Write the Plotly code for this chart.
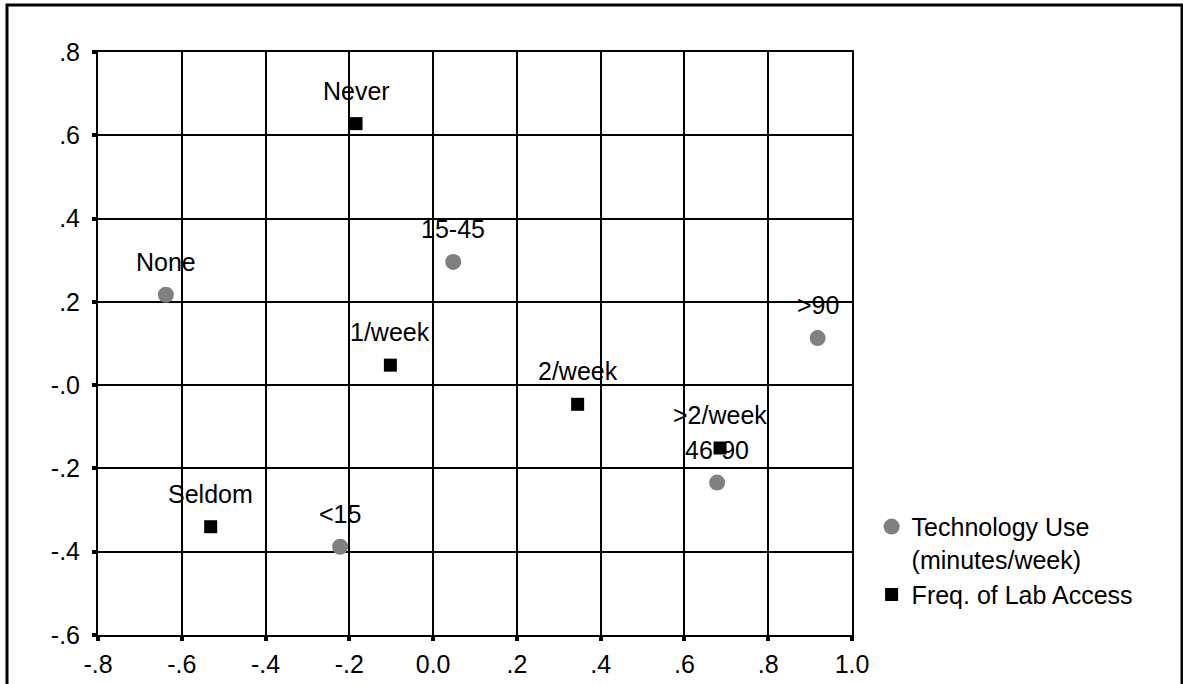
import plotly.graph_objects as go

# Technology Use (minutes/week)
tech_labels = ["None", "<15", "15-45", "46-90", ">90"]
tech_x = [-0.638, -0.222, 0.048, 0.678, 0.918]
tech_y = [0.217, -0.388, 0.296, -0.234, 0.113]

# Freq. of Lab Access
lab_labels = ["Never", "Seldom", "1/week", "2/week", ">2/week"]
lab_x = [-0.184, -0.531, -0.102, 0.345, 0.685]
lab_y = [0.628, -0.340, 0.048, -0.046, -0.151]

x_tickvals = [-0.8, -0.6, -0.4, -0.2, 0.0, 0.2, 0.4, 0.6, 0.8, 1.0]
x_ticktext = ["-.8", "-.6", "-.4", "-.2", "0.0", ".2", ".4", ".6", ".8", "1.0"]
y_tickvals = [-0.6, -0.4, -0.2, 0.0, 0.2, 0.4, 0.6, 0.8]
y_ticktext = ["-.6", "-.4", "-.2", "-.0", ".2", ".4", ".6", ".8"]

FONT = "Liberation Sans, Arial, sans-serif"
FS = 25

fig = go.Figure()
fig.add_trace(go.Scatter(
    x=tech_x, y=tech_y, mode="markers",
    name="Technology Use<br>(minutes/week)",
    marker=dict(symbol="circle", size=16, color="#808080"),
    hoverinfo="skip",
))
fig.add_trace(go.Scatter(
    x=lab_x, y=lab_y, mode="markers",
    name="Freq. of Lab Access",
    marker=dict(symbol="square", size=13, color="black"),
    hoverinfo="skip",
))

for lbls, xs, ys in ((tech_labels, tech_x, tech_y), (lab_labels, lab_x, lab_y)):
    for t, xv, yv in zip(lbls, xs, ys):
        fig.add_annotation(x=xv, y=yv, text=t, showarrow=False,
                           xanchor="center", yanchor="middle", yshift=33,
                           font=dict(family=FONT, size=FS, color="black"))

axis_common = dict(
    showgrid=True, gridcolor="black", gridwidth=2,
    showline=True, linecolor="black", linewidth=2, mirror=True,
    zeroline=False, ticks="outside", ticklen=4, tickwidth=4, tickcolor="black",
    tickfont=dict(family=FONT, size=FS, color="black"),
    fixedrange=True, automargin=False,
)

fig.update_xaxes(range=[-0.8, 1.0], tickvals=x_tickvals, ticktext=x_ticktext,
                 ticklabelstandoff=2, **axis_common)
fig.update_yaxes(range=[-0.6, 0.8], tickvals=y_tickvals, ticktext=y_ticktext,
                 ticklabelstandoff=7, **axis_common)

# outer frame
fig.add_shape(type="rect", xref="paper", yref="paper",
              x0=-0.1207, x1=1.4377, y0=-0.12, y1=1.0806,
              line=dict(color="black", width=3), layer="below")

fig.update_layout(
    width=1183, height=684,
    margin=dict(l=98, r=331, t=52, b=49, autoexpand=False),
    paper_bgcolor="white", plot_bgcolor="white",
    showlegend=True,
    legend=dict(x=1.026, y=0.225, xanchor="left", yanchor="top",
                font=dict(family=FONT, size=FS, color="black"),
                bgcolor="rgba(0,0,0,0)", valign="top", tracegroupgap=0,
                itemsizing="trace"),
    font=dict(family=FONT, size=FS, color="black"),
)

fig.write_html("out.html", config={"displayModeBar": False},
               post_script="document.body.style.margin='0';document.body.style.overflow='hidden';")
